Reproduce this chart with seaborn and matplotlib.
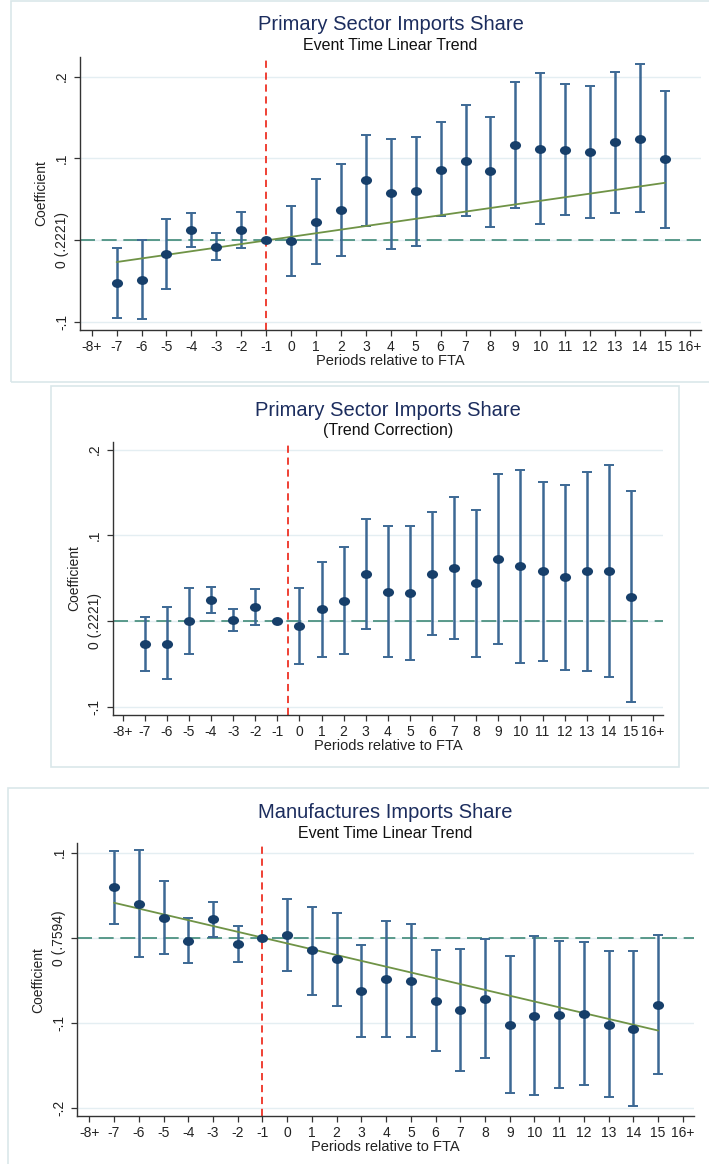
import numpy as np
import pandas as pd
import matplotlib
matplotlib.use("Agg")
import matplotlib.pyplot as plt
import matplotlib.path as mpath
from matplotlib.patches import Rectangle
import seaborn as sns

# ---------------- data ----------------
periods = [-7, -6, -5, -4, -3, -2, -1, 0, 1, 2, 3, 4, 5, 6, 7, 8, 9, 10, 11, 12, 13, 14, 15]
tick_pos = list(range(-8, 17))
tick_labels = ["-8+"] + [str(v) for v in range(-7, 16)] + ["16+"]

# Panel 1: Primary sector, event time linear trend
coef1 = [-0.053, -0.049, -0.017, 0.012, -0.008, 0.012, 0.0, -0.001, 0.022, 0.037, 0.073, 0.057,
         0.060, 0.086, 0.097, 0.084, 0.116, 0.112, 0.110, 0.108, 0.120, 0.124, 0.099]
hi1 = [-0.010, 0.000, 0.026, 0.033, 0.008, 0.034, np.nan, 0.042, 0.075, 0.093, 0.129, 0.124,
       0.126, 0.144, 0.165, 0.151, 0.194, 0.205, 0.191, 0.189, 0.206, 0.216, 0.183]
lo1 = [-0.096, -0.097, -0.060, -0.009, -0.024, -0.010, np.nan, -0.044, -0.029, -0.019, 0.017, -0.011,
       -0.007, 0.029, 0.029, 0.016, 0.039, 0.020, 0.030, 0.027, 0.033, 0.034, 0.015]
trend1_x = [-7, 15]
trend1_y = [-0.027, 0.070]

# Panel 2: Primary sector, trend correction
coef2 = [-0.027, -0.027, 0.000, 0.025, 0.001, 0.016, 0.0, -0.006, 0.014, 0.023, 0.055, 0.034,
         0.033, 0.055, 0.062, 0.044, 0.072, 0.064, 0.058, 0.051, 0.058, 0.058, 0.028]
hi2 = [0.005, 0.016, 0.039, 0.040, 0.014, 0.037, np.nan, 0.039, 0.069, 0.086, 0.119, 0.111,
       0.111, 0.127, 0.145, 0.130, 0.172, 0.176, 0.162, 0.159, 0.174, 0.182, 0.152]
lo2 = [-0.058, -0.068, -0.038, 0.009, -0.012, -0.005, np.nan, -0.050, -0.042, -0.038, -0.009, -0.042,
       -0.045, -0.016, -0.021, -0.042, -0.027, -0.049, -0.047, -0.057, -0.058, -0.065, -0.095]

# Panel 3: Manufactures, event time linear trend
coef3 = [0.059, 0.040, 0.023, -0.004, 0.022, -0.007, 0.0, 0.003, -0.015, -0.025, -0.063, -0.049,
         -0.051, -0.074, -0.085, -0.072, -0.103, -0.092, -0.091, -0.089, -0.102, -0.107, -0.079]
hi3 = [0.102, 0.103, 0.067, 0.023, 0.042, 0.014, np.nan, 0.046, 0.036, 0.029, -0.008, 0.020,
       0.016, -0.015, -0.013, -0.002, -0.022, 0.002, -0.004, -0.005, -0.016, -0.016, 0.003]
lo3 = [0.016, -0.023, -0.019, -0.030, 0.001, -0.028, np.nan, -0.039, -0.067, -0.080, -0.117, -0.116,
       -0.117, -0.133, -0.157, -0.141, -0.182, -0.185, -0.177, -0.173, -0.187, -0.198, -0.160]
trend3_x = [-7, 15]
trend3_y = [0.041, -0.109]

# ---------------- style ----------------
sns.set_theme(style="white")
plt.rcParams["font.family"] = ["Liberation Sans", "DejaVu Sans"]

W, H = 709, 1164
fig = plt.figure(figsize=(W / 100, H / 100), dpi=100)
fig.patch.set_facecolor("white")

NAVY_TITLE = "#1c2d5e"
PT_COLOR = "#173f6a"
CI_COLOR = "#3c6894"
TREND_COLOR = "#6f9346"
ZERO_COLOR = "#3f8a78"
RED = "#ee3124"
GRID = "#e4eef2"
BOX = "#dae7ea"

# elliptical marker (as in the reference)
circ = mpath.Path.unit_circle()
ell = mpath.Path(circ.vertices * np.array([1.0, 0.8]), circ.codes)


def px_rect(x0, y0, x1, y1):
    """axes rect in figure fraction from pixel coords (top-left origin)"""
    return [x0 / W, 1 - y1 / H, (x1 - x0) / W, (y1 - y0) / H]


def panel(box, ax_px, ylim, xlim, yticks, ylabels, title, subtitle, coef, lo, hi,
          vline_x, trend_x=None, trend_y=None):
    bx0, by0, bx1, by1 = box
    fig.add_artist(Rectangle((bx0 / W, 1 - by1 / H), (bx1 - bx0) / W, (by1 - by0) / H,
                             transform=fig.transFigure, fill=False, edgecolor=BOX, lw=1.2))
    x0, y0, x1, y1 = ax_px
    ax = fig.add_axes(px_rect(x0, y0, x1, y1))
    ax.set_facecolor("white")
    ax.set_xlim(*xlim)
    ax.set_ylim(*ylim)

    for yt in yticks:
        ax.axhline(yt, color=GRID, lw=1.0, zorder=0)

    df = pd.DataFrame({"period": periods, "coef": coef, "lo": lo, "hi": hi})
    dci = df.dropna()
    ax.errorbar(dci["period"], dci["coef"],
                yerr=[dci["coef"] - dci["lo"], dci["hi"] - dci["coef"]],
                fmt="none", ecolor=CI_COLOR, elinewidth=1.8, capsize=3.3, capthick=1.4, zorder=2)

    ax.axhline(0, color=ZERO_COLOR, lw=1.2, ls=(0, (9, 4)), zorder=1.5)
    ax.axvline(vline_x, color=RED, lw=1.3, ls=(0, (4, 2.6)), zorder=1.6)

    if trend_x is not None:
        sns.lineplot(x=trend_x, y=trend_y, ax=ax, color=TREND_COLOR, lw=1.3, zorder=2.5)

    sns.scatterplot(data=df, x="period", y="coef", ax=ax, marker=ell, s=64,
                    color=PT_COLOR, edgecolor=PT_COLOR, linewidth=0, zorder=3)

    ax.set_xticks(tick_pos)
    ax.set_xticklabels(tick_labels, fontsize=10, color="#222222")
    ax.set_yticks(yticks)
    ax.set_yticklabels(ylabels, fontsize=10, color="#222222")
    plt.setp(ax.get_yticklabels(), rotation=90, ha="center", va="baseline",
             rotation_mode="anchor")
    ax.tick_params(axis="y", length=4, width=0.9, color="#333333", pad=6, left=True)
    ax.tick_params(axis="x", length=4, width=0.9, color="#333333", pad=3, bottom=True)

    for s in ["top", "right"]:
        ax.spines[s].set_visible(False)
    for s in ["left", "bottom"]:
        ax.spines[s].set_color("#333333")
        ax.spines[s].set_linewidth(1.0)

    ax.set_xlabel("Periods relative to FTA", fontsize=10.5, color="#222222", labelpad=0)
    ax.set_ylabel("Coefficient", fontsize=10, color="#222222", labelpad=5)

    cx = (x0 + x1) / 2 / W
    fig.text(cx, 1 - (box[1] + 24) / H, title, ha="center", va="center",
             fontsize=14.5, color=NAVY_TITLE)
    fig.text(cx, 1 - (box[1] + 45) / H, subtitle, ha="center", va="center",
             fontsize=11.5, color="#111111")
    return ax


panel(box=(10.5, 1, 720, 382), ax_px=(80, 56.7, 701, 330),
      ylim=(-0.1102, 0.2244), xlim=(-8.47, 16.45),
      yticks=[-0.1, 0, 0.1, 0.2], ylabels=["-.1", "0 (.2221)", ".1", ".2"],
      title="Primary Sector Imports Share", subtitle="Event Time Linear Trend",
      coef=coef1, lo=lo1, hi=hi1, vline_x=-1, trend_x=trend1_x, trend_y=trend1_y)

panel(box=(50.7, 386, 679, 767), ax_px=(112.7, 441.7, 663, 715),
      ylim=(-0.1097, 0.2092), xlim=(-8.45, 16.45),
      yticks=[-0.1, 0, 0.1, 0.2], ylabels=["-.1", "0 (.2221)", ".1", ".2"],
      title="Primary Sector Imports Share", subtitle="(Trend Correction)",
      coef=coef2, lo=lo2, hi=hi2, vline_x=-0.5)

panel(box=(8, 788, 720, 1175), ax_px=(77.2, 843.3, 694, 1116),
      ylim=(-0.2093, 0.1108), xlim=(-8.49, 16.45),
      yticks=[-0.2, -0.1, 0, 0.1], ylabels=["-.2", "-.1", "0 (.7594)", ".1"],
      title="Manufactures Imports Share", subtitle="Event Time Linear Trend",
      coef=coef3, lo=lo3, hi=hi3, vline_x=-1, trend_x=trend3_x, trend_y=trend3_y)

fig.savefig("out.png", dpi=100, facecolor="white")
